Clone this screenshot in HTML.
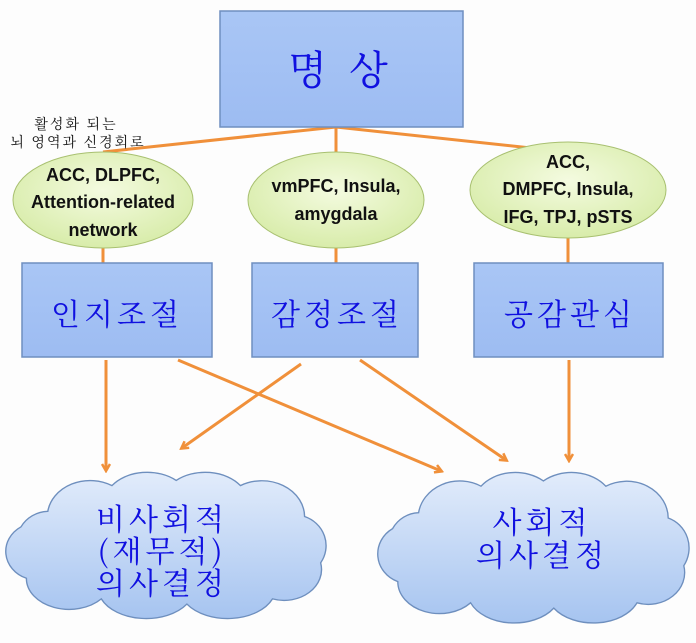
<!DOCTYPE html>
<html><head><meta charset="utf-8"><style>
html,body{margin:0;padding:0;background:#fdfdfd;}
svg{display:block;}
.k{font-family:"Noto Serif CJK SC","Liberation Serif",serif;fill:#1010e0;}
.e{font-family:"Liberation Sans",sans-serif;font-weight:bold;font-size:18px;fill:#111;text-anchor:middle;}
</style></head><body>
<svg width="696" height="643" viewBox="0 0 696 643" xmlns="http://www.w3.org/2000/svg">
<defs>
<linearGradient id="bx" x1="0" y1="0" x2="0" y2="1"><stop offset="0" stop-color="#a9c6f5"/><stop offset="1" stop-color="#9dbcf2"/></linearGradient>
<radialGradient id="el" cx="0.5" cy="0.4" r="0.6"><stop offset="0" stop-color="#f4fbe0"/><stop offset="1" stop-color="#d8ecaa"/></radialGradient>
<linearGradient id="cl" x1="0" y1="0" x2="0" y2="1"><stop offset="0" stop-color="#e2ecfb"/><stop offset="1" stop-color="#a6c4f0"/></linearGradient>
<marker id="ar" markerWidth="10" markerHeight="10" refX="7" refY="5" orient="auto" markerUnits="userSpaceOnUse"><path d="M1,1 L8,5 L1,9" fill="none" stroke="#f0903a" stroke-width="2.5"/></marker>
<path id="cloud" d="M40,45 A40,35 0 0 1 100,20 A40,30 0 0 1 160,15 A40,30 0 0 1 220,20 A40,35 0 0 1 280,50 A30,30 0 0 1 295,95 A35,30 0 0 1 250,130 A45,30 0 0 1 170,135 A45,30 0 0 1 90,130 A40,30 0 0 1 20,110 A30,28 0 0 1 15,60 A30,30 0 0 1 40,45 Z"/>
</defs>
<g stroke="#f0903a" stroke-width="3" fill="none">
<line x1="336" y1="127" x2="103" y2="152"/>
<line x1="336" y1="127" x2="568" y2="152"/>
<line x1="336" y1="127" x2="336" y2="263"/>
<line x1="103" y1="240" x2="103" y2="263"/>
<line x1="568" y1="230" x2="568" y2="263"/>
</g>
<rect x="220" y="11" width="243" height="116" fill="url(#bx)" stroke="#6f8fc0" stroke-width="1.5"/>
<text x="341" y="84" class="k" font-size="40" text-anchor="middle" letter-spacing="6">명 상</text>
<text x="76" y="129" font-family="'Noto Serif CJK SC',serif" font-size="14" text-anchor="middle" fill="#111" letter-spacing="2">활성화 되는</text>
<text x="78" y="147" font-family="'Noto Serif CJK SC',serif" font-size="14" text-anchor="middle" fill="#111" letter-spacing="2">뇌 영역과 신경회로</text>
<ellipse cx="103" cy="200" rx="90" ry="48" fill="url(#el)" stroke="#a8c070" stroke-width="1"/>
<ellipse cx="336" cy="200" rx="88" ry="48" fill="url(#el)" stroke="#a8c070" stroke-width="1"/>
<ellipse cx="568" cy="190" rx="98" ry="48" fill="url(#el)" stroke="#a8c070" stroke-width="1"/>
<text class="e" x="103" y="181">ACC, DLPFC,</text>
<text class="e" x="103" y="208">Attention-related</text>
<text class="e" x="103" y="236">network</text>
<text class="e" x="336" y="192">vmPFC, Insula,</text>
<text class="e" x="336" y="220">amygdala</text>
<text class="e" x="568" y="168">ACC,</text>
<text class="e" x="568" y="195">DMPFC, Insula,</text>
<text class="e" x="568" y="223">IFG, TPJ, pSTS</text>
<rect x="22" y="263" width="190" height="94" fill="url(#bx)" stroke="#6f8fc0" stroke-width="1.5"/>
<rect x="252" y="263" width="166" height="94" fill="url(#bx)" stroke="#6f8fc0" stroke-width="1.5"/>
<rect x="474" y="263" width="189" height="94" fill="url(#bx)" stroke="#6f8fc0" stroke-width="1.5"/>
<text x="117" y="325" class="k" font-size="30" text-anchor="middle" letter-spacing="4">인지조절</text>
<text x="337" y="325" class="k" font-size="30" text-anchor="middle" letter-spacing="4">감정조절</text>
<text x="570" y="325" class="k" font-size="30" text-anchor="middle" letter-spacing="4">공감관심</text>
<g stroke="#f0903a" stroke-width="3" fill="none" marker-end="url(#ar)">
<line x1="106" y1="360" x2="106" y2="470"/>
<line x1="301" y1="364" x2="182" y2="448"/>
<line x1="178" y1="360" x2="441" y2="471"/>
<line x1="360" y1="360" x2="506" y2="460"/>
<line x1="569" y1="360" x2="569" y2="460"/>
</g>
<use href="#cloud" transform="translate(5,465) scale(1.07,1.03)" fill="url(#cl)" stroke="#6e8fbe" stroke-width="1.3"/>
<use href="#cloud" transform="translate(377,465) scale(1.04,1.06)" fill="url(#cl)" stroke="#6e8fbe" stroke-width="1.3"/>
<text x="162" y="530" class="k" font-size="30" text-anchor="middle" letter-spacing="4">비사회적</text>
<text x="162" y="562" class="k" font-size="30" text-anchor="middle" letter-spacing="4">(재무적)</text>
<text x="162" y="594" class="k" font-size="30" text-anchor="middle" letter-spacing="4">의사결정</text>
<text x="542" y="533" class="k" font-size="30" text-anchor="middle" letter-spacing="4">사회적</text>
<text x="542" y="566" class="k" font-size="30" text-anchor="middle" letter-spacing="4">의사결정</text>
</svg>
</body></html>
